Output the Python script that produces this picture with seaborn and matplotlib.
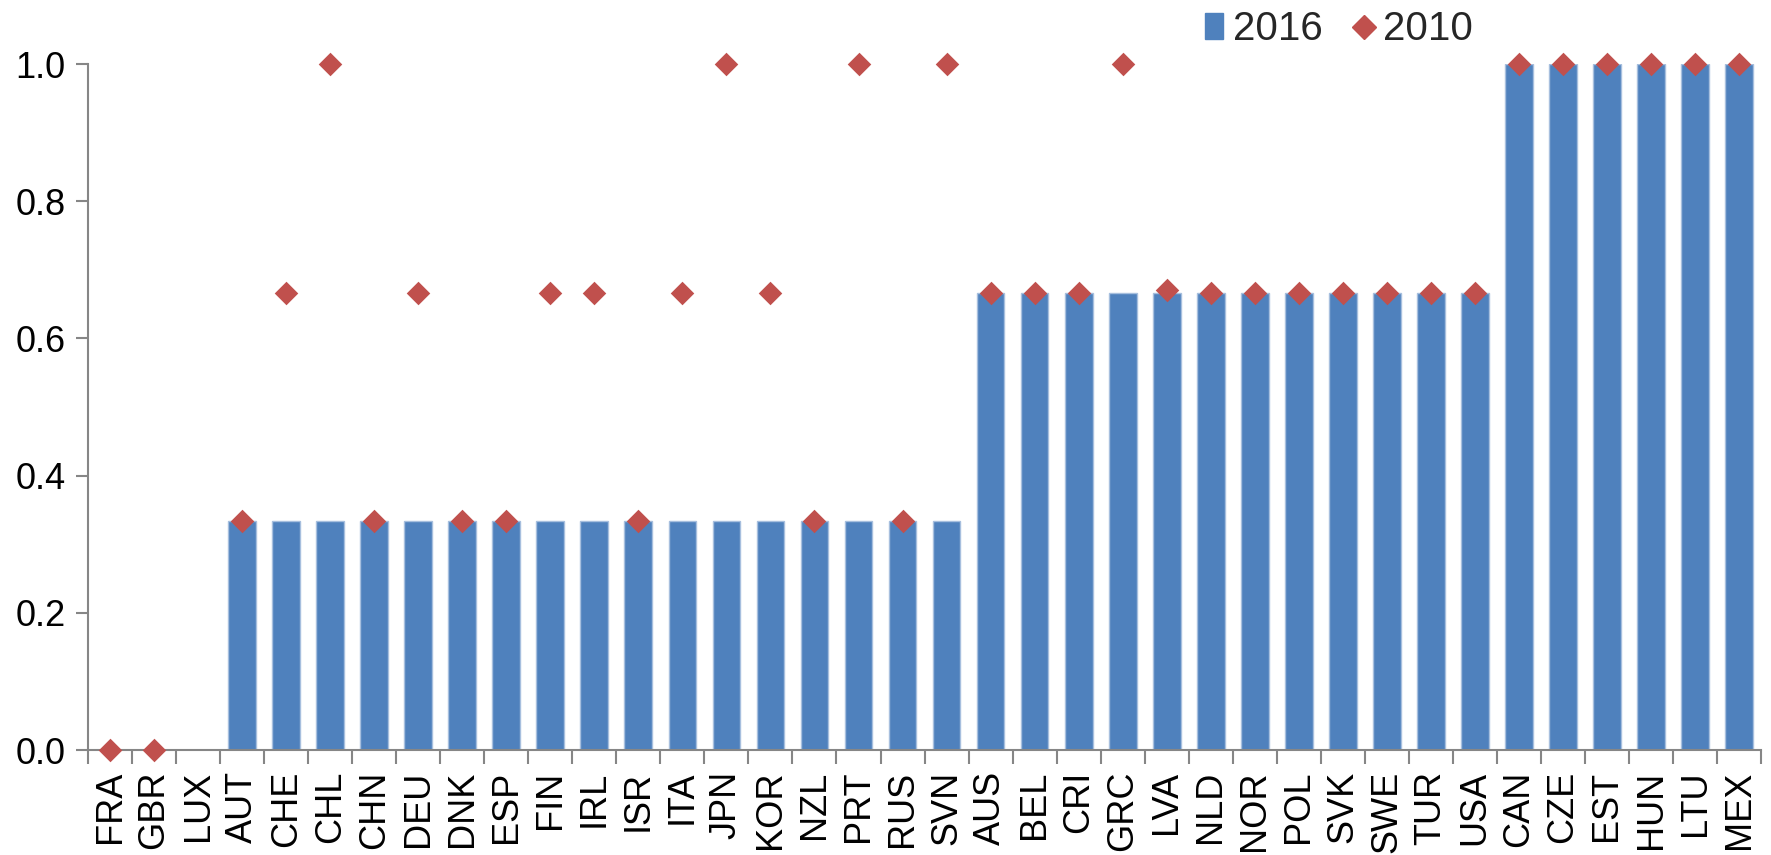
import numpy as np
import pandas as pd
import matplotlib
matplotlib.use("Agg")
import matplotlib.pyplot as plt
import seaborn as sns
from matplotlib.patches import Patch
from matplotlib.lines import Line2D

countries = ["FRA", "GBR", "LUX", "AUT", "CHE", "CHL", "CHN", "DEU", "DNK", "ESP",
             "FIN", "IRL", "ISR", "ITA", "JPN", "KOR", "NZL", "PRT", "RUS", "SVN",
             "AUS", "BEL", "CRI", "GRC", "LVA", "NLD", "NOR", "POL", "SVK", "SWE",
             "TUR", "USA", "CAN", "CZE", "EST", "HUN", "LTU", "MEX"]

t = 1 / 3
v2016 = [0, 0, 0,
         t, t, t, t, t, t, t, t, t, t, t, t, t, t, t, t, t,
         2 * t, 2 * t, 2 * t, 2 * t, 2 * t, 2 * t, 2 * t, 2 * t, 2 * t, 2 * t, 2 * t, 2 * t,
         1, 1, 1, 1, 1, 1]

v2010 = [0, 0, np.nan,
         t, 2 * t, 1, t, 2 * t, t, t, 2 * t, 2 * t, t, 2 * t, 1, 2 * t, t, 1, t, 1,
         2 * t, 2 * t, 2 * t, 1, 0.671, 2 * t, 2 * t, 2 * t, 2 * t, 2 * t, 2 * t, 2 * t,
         1, 1, 1, 1, 1, 1]

df = pd.DataFrame({"country": countries, "2016": v2016, "2010": v2010})

sns.set_theme(style="white")
plt.rcParams["font.family"] = ["Liberation Sans", "DejaVu Sans"]

bar_color = "#4F81BD"
dot_color = "#C0504D"
axis_color = "#868686"

fig = plt.figure(figsize=(17.71, 8.55), dpi=100)
ax = fig.add_axes([0.0497, 0.1228, 0.9447, 0.8023])

sns.barplot(data=df, x="country", y="2016", order=countries, color=bar_color,
            saturation=1, width=0.63, edgecolor="#A7BFDE", linewidth=1.0, ax=ax)
sns.stripplot(data=df, x="country", y="2010", order=countries, jitter=False,
              marker="D", size=12, color=dot_color, linewidth=0, ax=ax,
              legend=False, zorder=5)
for coll in ax.collections:
    coll.set_clip_on(False)

ax.set_xlim(-0.5, len(countries) - 0.5)
ax.set_ylim(0, 1.0)
ax.set_yticks([0, 0.2, 0.4, 0.6, 0.8, 1.0])
ax.set_yticklabels(["0.0", "0.2", "0.4", "0.6", "0.8", "1.0"])
ax.set_xlabel("")
ax.set_ylabel("")

# category labels centred on bars, tick marks on category boundaries
ax.set_xticks(np.arange(len(countries)))
ax.set_xticklabels(countries, rotation=90, fontsize=26)
ax.tick_params(axis="x", which="major", length=0, pad=15, labelcolor="black")
ax.set_xticks(np.arange(len(countries) + 1) - 0.5, minor=True)
ax.tick_params(axis="x", which="minor", length=10, width=1.5, color=axis_color,
               direction="out", bottom=True)
ax.tick_params(axis="y", length=9, width=1.5, color=axis_color, direction="out",
               left=True, labelsize=26, pad=7, labelcolor="black")

for side in ["top", "right"]:
    ax.spines[side].set_visible(False)
for side in ["left", "bottom"]:
    ax.spines[side].set_visible(True)
    ax.spines[side].set_color(axis_color)
    ax.spines[side].set_linewidth(1.5)

legend_handles = [Patch(facecolor=bar_color, edgecolor=bar_color),
                  Line2D([], [], marker="D", linestyle="none", color=dot_color,
                         markersize=12)]
fig.legend(legend_handles, ["2016", "2010"], loc="center", ncol=2,
           bbox_to_anchor=(0.756, 0.966), frameon=False, fontsize=29,
           handlelength=0.45, handleheight=0.6, handletextpad=0.25,
           columnspacing=0.8, borderpad=0)

fig.savefig("out.png", dpi=100)
